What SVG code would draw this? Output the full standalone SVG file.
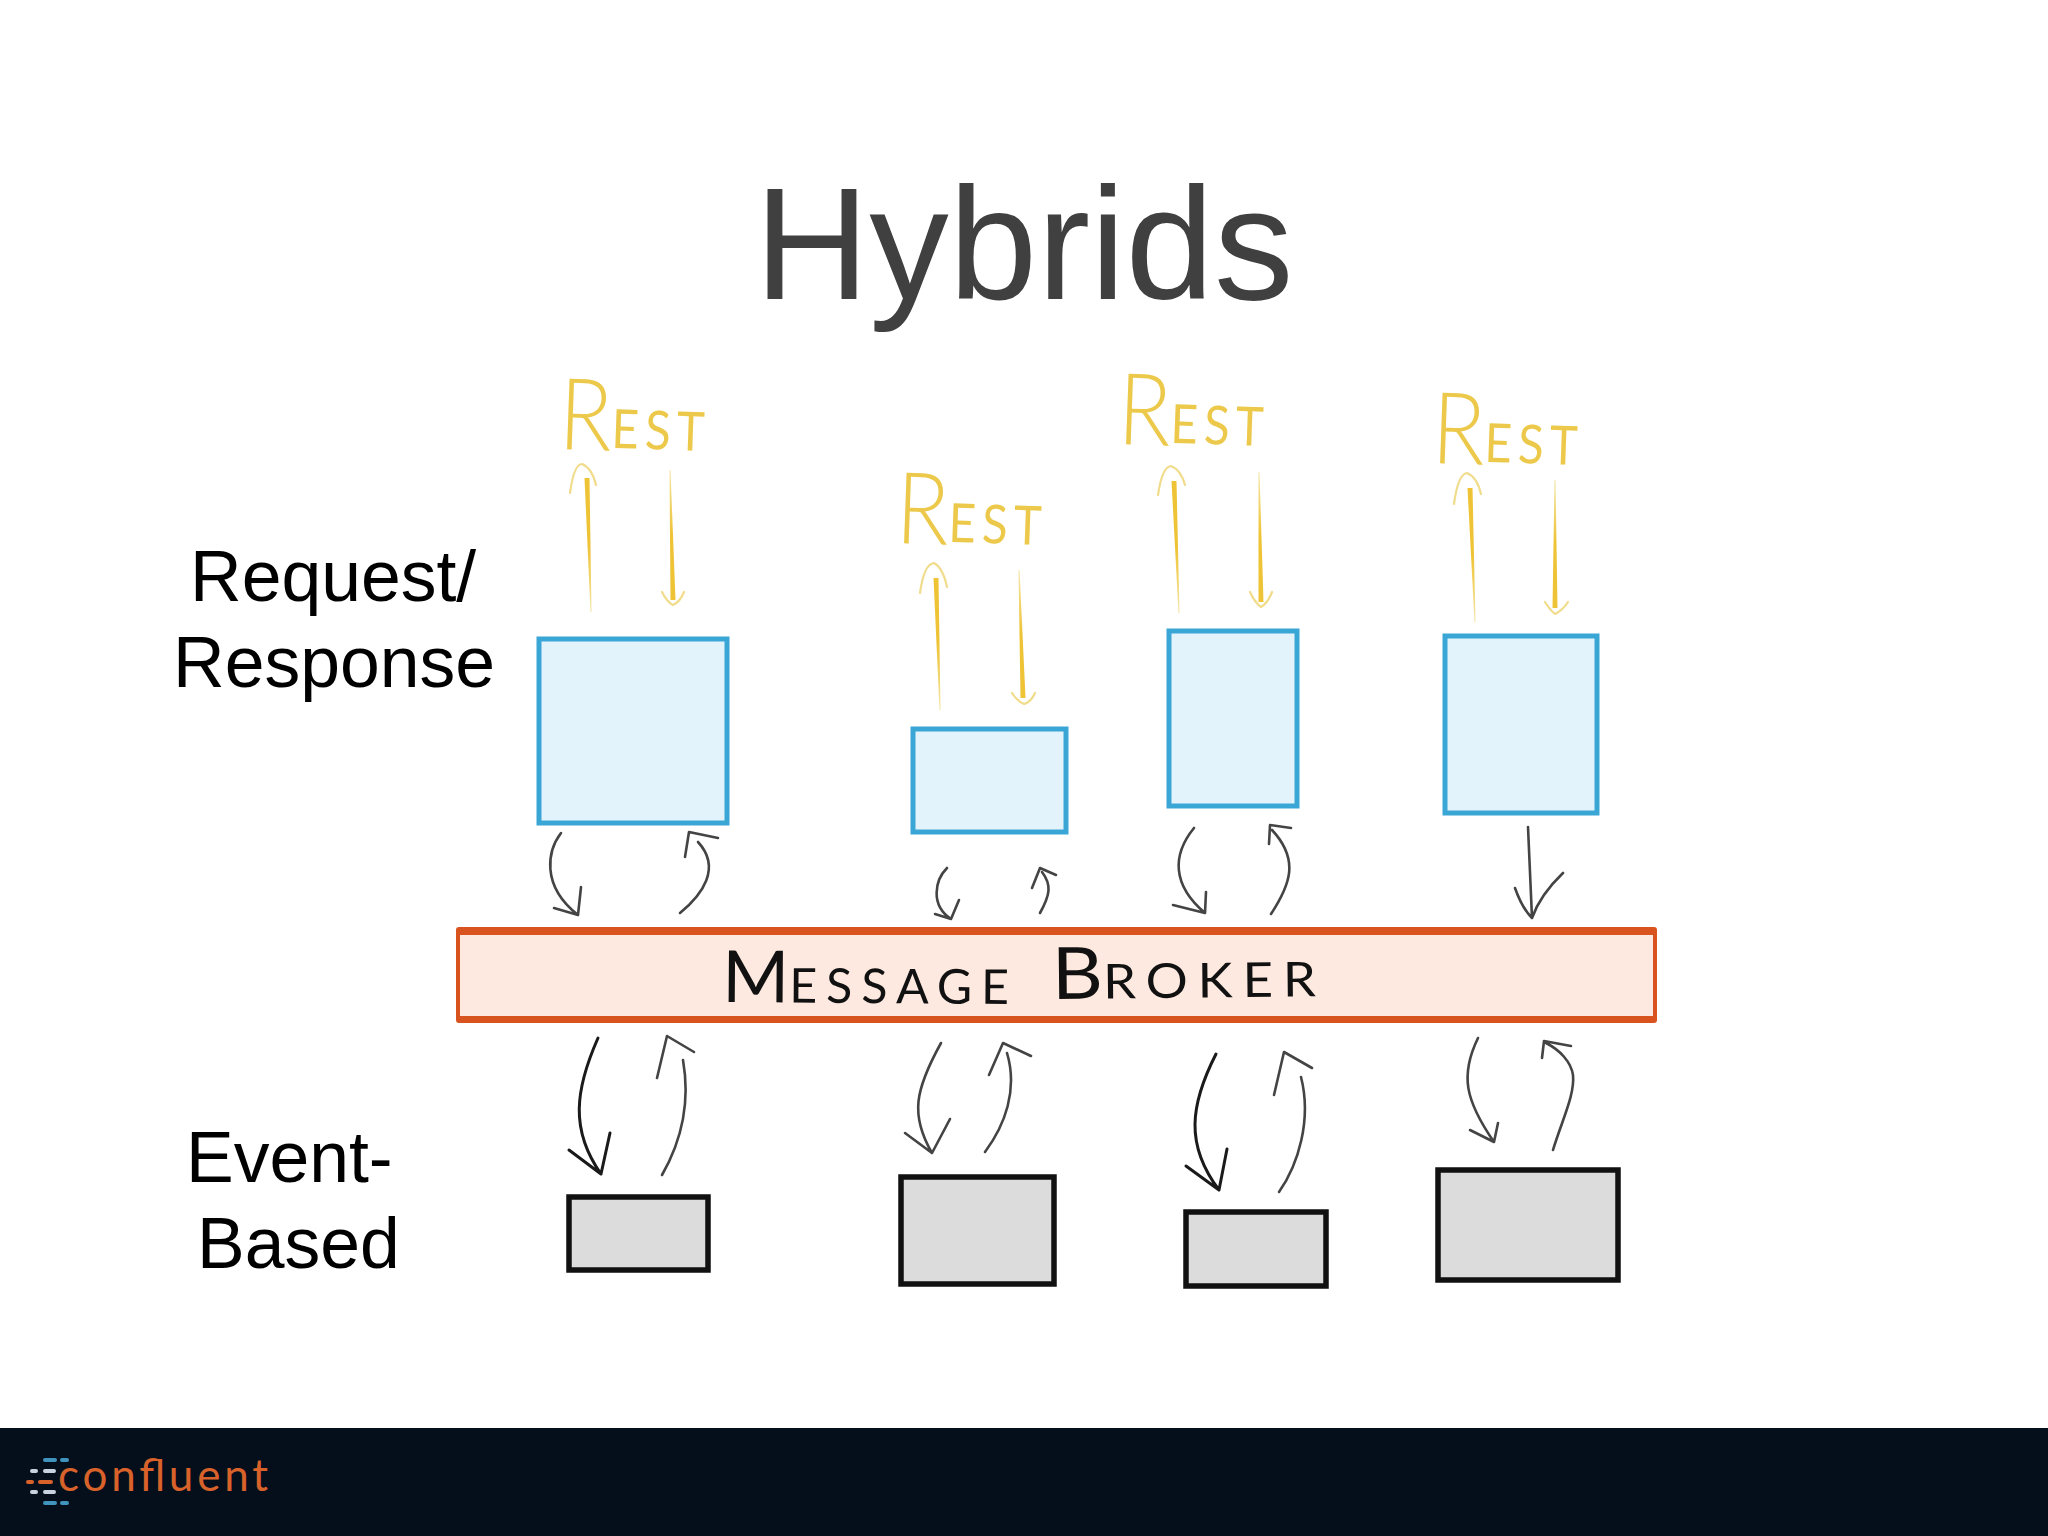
<svg xmlns="http://www.w3.org/2000/svg" width="2048" height="1536" viewBox="0 0 2048 1536">
<style>
.label{font-family:"Liberation Sans",Arial,sans-serif;font-size:71.5px;fill:#000}
.title{font-family:"Liberation Sans",Arial,sans-serif;font-size:159px;fill:#404040}
.rest{font-family:"Lato","Open Sans",sans-serif;font-weight:300;font-size:100px;fill:#ecc94a}
.rest tspan{font-size:54px;font-weight:400;text-transform:uppercase;letter-spacing:7px}
.broker{font-family:"Lato","Open Sans",sans-serif;font-weight:400;font-size:72px;fill:#111}
.broker tspan{font-size:48px;font-weight:400;text-transform:uppercase;letter-spacing:9px}
.blue{fill:#e3f3fc;stroke:#3aa6d6;stroke-width:5}
.gray{fill:#dcdcdc;stroke:#111;stroke-width:5.5}
.thin{fill:none;stroke:#f0dc8a;stroke-width:2.2;stroke-linecap:round;stroke-linejoin:round}
.up{fill:url(#fadeDown)}
.down{fill:url(#fadeUp)}
.black{fill:none;stroke:#444;stroke-width:2.6;stroke-linecap:round;stroke-linejoin:round}
.dark{stroke:#1a1a1a;stroke-width:3}
.bar{stroke-width:4;stroke-linecap:round;fill:none}
</style>
<defs>
<linearGradient id="fadeDown" x1="0" y1="0" x2="0" y2="1"><stop offset="0" stop-color="#eec335"/><stop offset="0.5" stop-color="#eec335"/><stop offset="1" stop-color="#f3e6a8"/></linearGradient>
<linearGradient id="fadeUp" x1="0" y1="1" x2="0" y2="0"><stop offset="0" stop-color="#eec335"/><stop offset="0.5" stop-color="#eec335"/><stop offset="1" stop-color="#f3e6a8"/></linearGradient>
</defs>
<rect width="2048" height="1536" fill="#fff"/>
<text id="title" class="title" x="1024" y="299" text-anchor="middle">Hybrids</text>
<text id="label-request" class="label"><tspan x="190" y="601">Request/</tspan><tspan x="173" y="687">Response</tspan></text>
<text id="label-event" class="label"><tspan x="186" y="1182">Event-</tspan><tspan x="197" y="1268">Based</tspan></text>

<g id="service-1"><rect class="blue" x="539" y="639" width="188" height="184"/></g>
<g id="service-2"><rect class="blue" x="913" y="729" width="153" height="103"/></g>
<g id="service-3"><rect class="blue" x="1169" y="631" width="128" height="175"/></g>
<g id="service-4"><rect class="blue" x="1445" y="636" width="152" height="177"/></g>

<g id="rest-1"><text class="rest" transform="translate(558,449) rotate(2)" textLength="152" lengthAdjust="spacingAndGlyphs">R<tspan dy="-3">est</tspan></text></g>
<g id="rest-2"><text class="rest" transform="translate(895,543) rotate(2)" textLength="152" lengthAdjust="spacingAndGlyphs">R<tspan dy="-3">est</tspan></text></g>
<g id="rest-3"><text class="rest" transform="translate(1117,444) rotate(2)" textLength="152" lengthAdjust="spacingAndGlyphs">R<tspan dy="-3">est</tspan></text></g>
<g id="rest-4"><text class="rest" transform="translate(1431,463) rotate(2)" textLength="152" lengthAdjust="spacingAndGlyphs">R<tspan dy="-3">est</tspan></text></g>

<g id="broker">
<rect x="456" y="927" width="1201" height="96" rx="3" fill="#d9531e"/>
<rect x="460" y="935" width="1193" height="81" fill="#fde9df"/>
<text class="broker" transform="translate(722,1002) rotate(0.4)" textLength="296" lengthAdjust="spacingAndGlyphs">M<tspan>essage</tspan></text>
<text class="broker" transform="translate(1052,999) rotate(-0.6)" textLength="274" lengthAdjust="spacingAndGlyphs">B<tspan>roker</tspan></text>
</g>

<g id="backend-1"><rect class="gray" x="569" y="1197" width="139" height="73"/></g>
<g id="backend-2"><rect class="gray" x="901" y="1177" width="153" height="107"/></g>
<g id="backend-3"><rect class="gray" x="1186" y="1212" width="140" height="74"/></g>
<g id="backend-4"><rect class="gray" x="1438" y="1170" width="180" height="110"/></g>

<g id="connectors">
<g id="rest-arrows">
<path class="thin" d="M570,493Q574,464 582,464Q592,468 596,485"/><path class="up" d="M584.5,478H589.5L591.5,612H590.5Z"/>
<path class="thin" d="M662,592Q667,602 673,605Q680,602 684,592"/><path class="down" d="M669.5,470H670.5L675.5,600H670.5Z"/>
<path class="thin" d="M920,593Q924,564 934,563Q943,568 947,587"/><path class="up" d="M933.5,578H938.5L940.5,710H939.5Z"/>
<path class="thin" d="M1012,693Q1018,702 1024,704Q1031,702 1035,693"/><path class="down" d="M1018.5,570H1019.5L1025.5,698H1020.5Z"/>
<path class="thin" d="M1158,495Q1162,467 1171,466Q1181,470 1185,485"/><path class="up" d="M1171.5,481H1176.5L1179.5,613H1178.5Z"/>
<path class="thin" d="M1250,592Q1255,603 1261,607Q1268,603 1272,592"/><path class="down" d="M1258.5,472H1259.5L1263.5,602H1258.5Z"/>
<path class="thin" d="M1454,504Q1458,474 1467,473Q1477,477 1481,494"/><path class="up" d="M1467.5,488H1472.5L1475.5,622H1474.5Z"/>
<path class="thin" d="M1545,602Q1550,610 1555,614Q1563,610 1568,602"/><path class="down" d="M1554.5,480H1555.5L1557.5,608H1552.5Z"/>
</g>
<g id="broker-arrows">
<path class="black" d="M561,833C548,850 540,885 578,915M554,908L578,915L581,887"/>
<path class="black" d="M680,913C702,895 722,868 698,842M685,857L689,832L718,838"/>
<path class="black" d="M947,868C935,880 930,905 951,919M935,914L951,919L959,900"/>
<path class="black" d="M1040,913C1050,895 1052,885 1042,872M1032,888L1040,868L1056,875"/>
<path class="black" d="M1194,828C1172,855 1172,885 1205,913M1173,905L1205,913L1206,892"/>
<path class="black" d="M1271,914C1290,885 1300,860 1272,830M1269,844L1270,825L1291,828"/>
<path class="black" d="M1528,827L1532,918M1515,888Q1522,908 1532,918Q1540,895 1563,873"/>
<path class="black dark" d="M598,1038C575,1090 570,1130 601,1174M569,1150L601,1174L610,1133"/>
<path class="black" d="M662,1175C682,1140 690,1100 683,1060M657,1078L667,1036L694,1052"/>
<path class="black" d="M941,1043C915,1090 910,1115 932,1153M905,1133L932,1153L950,1119"/>
<path class="black" d="M985,1152C1005,1125 1018,1090 1007,1053M989,1075L1003,1043L1031,1056"/>
<path class="black dark" d="M1216,1054C1190,1105 1185,1145 1219,1190M1186,1166L1219,1190L1227,1149"/>
<path class="black" d="M1279,1192C1298,1165 1312,1120 1301,1077M1274,1095L1284,1052L1312,1068"/>
<path class="black" d="M1478,1038C1460,1075 1465,1100 1494,1142M1470,1130L1494,1142L1498,1123"/>
<path class="black" d="M1553,1150C1562,1120 1575,1095 1573,1075C1571,1062 1560,1050 1546,1043M1542,1058L1544,1041L1571,1046"/>
</g>
</g>

<g id="footer">
<rect x="0" y="1428" width="2048" height="108" fill="#050f1c"/>
<g id="logo">
<path class="bar" stroke="#3f93bd" d="M45,1460H55M62,1460H67M45,1503H55M62,1503H67"/>
<path class="bar" stroke="#c7d3e0" d="M32,1471H36M45,1471H54M32,1492H36M45,1492H54"/>
<path class="bar" stroke="#d9622b" d="M28,1482H32M40,1482H51"/>
<text x="58" y="1491" font-family="Lato,'Open Sans',sans-serif" font-weight="400" font-size="44" fill="#d9622b" textLength="210" lengthAdjust="spacing">confluent</text>
</g>
</g>
</svg>
